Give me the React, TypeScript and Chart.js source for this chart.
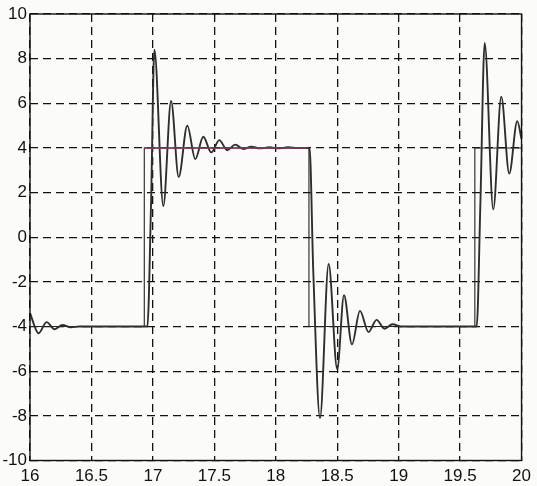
import React, { useEffect, useRef } from "react";
import { Chart, registerables } from "chart.js";

Chart.register(...registerables);

// Tick labels
const xTicks = [16, 16.5, 17, 17.5, 18, 18.5, 19, 19.5, 20];
const yTicks = [-10, -8, -6, -4, -2, 0, 2, 4, 6, 8, 10];

// Square (reference) wave
const squareX = [16, 16.93, 16.93, 18.27, 18.27, 19.62, 19.62, 20];
const squareY = [-4, -4, 4, 4, -4, -4, 4, 4];

// Highlighted reference segment (reddish)
const redX = [16.93, 18.26];
const redY = [4, 4];

// Oscillating response (peaks / troughs)
const respX = [
  16.0, 16.07, 16.135, 16.2, 16.265, 16.33, 16.4, 16.955, 16.985, 17.012,
  17.085, 17.148, 17.21, 17.28, 17.345, 17.41, 17.475, 17.54, 17.605, 17.67,
  17.735, 17.8, 17.87, 17.95, 18.02, 18.1, 18.18, 18.275, 18.305, 18.36,
  18.43, 18.5, 18.555, 18.62, 18.685, 18.755, 18.82, 18.885, 18.95, 19.02,
  19.635, 19.665, 19.7, 19.77, 19.835, 19.9, 19.965, 20.0,
];
const respY = [
  -3.4, -4.3, -3.8, -4.12, -3.93, -4.03, -4.0, -4.0, 1.5, 8.4,
  1.4, 6.1, 2.7, 5.0, 3.5, 4.5, 3.8, 4.35, 3.9, 4.15,
  3.95, 4.06, 3.98, 4.03, 3.98, 4.03, 3.99, 4.0, -1.5, -8.1,
  -1.2, -5.9, -2.6, -4.8, -3.3, -4.25, -3.7, -4.1, -3.9, -4.0,
  -4.0, 1.5, 8.7, 1.25, 6.3, 2.85, 5.2, 4.4,
];

const toPts = (xs: number[], ys: number[]) => xs.map((x, i) => ({ x, y: ys[i] }));

const boxPlugin = {
  id: "boxBorder",
  afterDatasetsDraw(chart: any) {
    const { ctx, chartArea } = chart;
    ctx.save();
    ctx.strokeStyle = "#111";
    ctx.lineWidth = 1.4;
    ctx.setLineDash([]);
    ctx.strokeRect(chartArea.left, chartArea.top, chartArea.right - chartArea.left, chartArea.bottom - chartArea.top);
    ctx.restore();
  },
};

const bgPlugin = {
  id: "bg",
  beforeDraw(chart: any) {
    const { ctx, width, height } = chart;
    ctx.save();
    ctx.fillStyle = "#fbfbf9";
    ctx.fillRect(0, 0, width, height);
    ctx.restore();
  },
};

export default function App() {
  const ref = useRef<HTMLCanvasElement>(null);
  useEffect(() => {
    if (!ref.current) return;
    const font = { family: "'Liberation Sans', Arial, sans-serif", size: 17 };
    const chart = new Chart(ref.current, {
      type: "line",
      data: {
        datasets: [
          {
            data: toPts(redX, redY),
            borderColor: "#8a3a5c",
            borderWidth: 1.6,
            pointRadius: 0,
            tension: 0,
          },
          {
            data: toPts(respX, respY),
            borderColor: "#2e2e2e",
            borderWidth: 1.9,
            pointRadius: 0,
            cubicInterpolationMode: "monotone",
          },
          {
            data: toPts(squareX, squareY),
            borderColor: "#222",
            borderWidth: 1.1,
            pointRadius: 0,
            tension: 0,
          },
        ],
      },
      options: {
        responsive: false,
        animation: false,
        layout: { padding: { left: 0, right: 14, top: 14, bottom: 0 } },
        plugins: { legend: { display: false }, tooltip: { enabled: false } },
        scales: {
          x: {
            type: "linear",
            min: 16,
            max: 20,
            afterBuildTicks: (s: any) => {
              s.ticks = xTicks.map((v) => ({ value: v }));
            },
            afterFit: (s: any) => {
              s.height = 25.5;
            },
            ticks: {
              font,
              color: "#111",
              padding: 6,
              maxRotation: 0,
              autoSkip: false,
              callback: (v: any) => String(v),
            },
            grid: { color: "#111", lineWidth: 1.3, drawTicks: false },
            border: { display: false, dash: [8, 5] },
          },
          y: {
            type: "linear",
            min: -10,
            max: 10,
            afterBuildTicks: (s: any) => {
              s.ticks = yTicks.map((v) => ({ value: v }));
            },
            afterFit: (s: any) => {
              s.width = 30;
            },
            ticks: {
              font,
              color: "#111",
              padding: 3,
              autoSkip: false,
              callback: (v: any) => String(v),
            },
            grid: { color: "#111", lineWidth: 1.3, drawTicks: false },
            border: { display: false, dash: [8, 5] },
          },
        },
      },
      plugins: [bgPlugin, boxPlugin],
    });
    return () => chart.destroy();
  }, []);
  return (
    <div style={{ position: "absolute", left: 0, top: 0, width: 537, height: 486 }}>
      <canvas ref={ref} width={537} height={486} style={{ display: "block" }} />
    </div>
  );
}
